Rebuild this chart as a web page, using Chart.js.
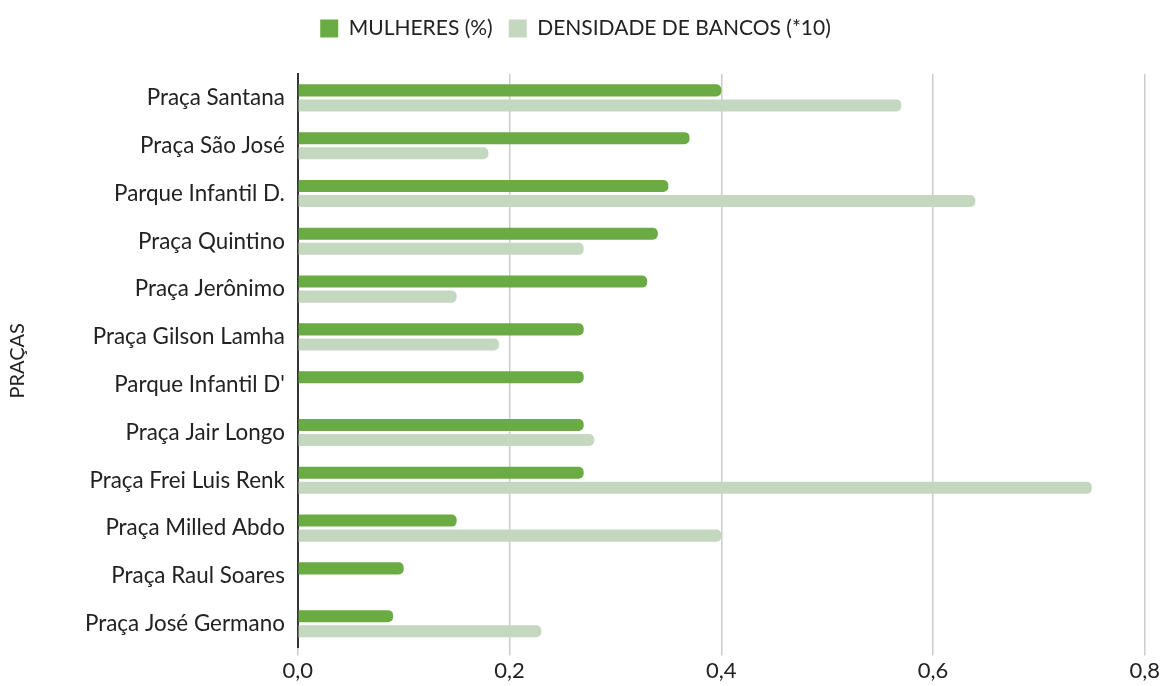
<!DOCTYPE html>
<html>
<head>
<meta charset="utf-8">
<script src="https://cdn.jsdelivr.net/npm/chart.js@4/dist/chart.umd.min.js"></script>
<style>
  html, body { margin: 0; padding: 0; background: #fff; }
  #wrap { width: 1162px; height: 686px; }
</style>
</head>
<body>
<div id="wrap"><canvas id="myChart"></canvas></div>
<script>
var pracas = ['Praça Santana', 'Praça São José', 'Parque Infantil D.', 'Praça Quintino',
  'Praça Jerônimo', 'Praça Gilson Lamha', "Parque Infantil D'", 'Praça Jair Longo',
  'Praça Frei Luis Renk', 'Praça Milled Abdo', 'Praça Raul Soares', 'Praça José Germano'];
var mulheres = [0.40, 0.37, 0.35, 0.34, 0.33, 0.27, 0.27, 0.27, 0.27, 0.15, 0.10, 0.09];
var densidade = [0.57, 0.18, 0.64, 0.27, 0.15, 0.19, null, 0.28, 0.75, 0.40, null, 0.23];
var xTicks = [0, 0.2, 0.4, 0.6, 0.8];

Chart.defaults.font.family = 'Lato, "Open Sans", sans-serif';
Chart.defaults.color = '#222';

// extra room under the legend
var legendGap = {
    id: 'legendGap',
    beforeInit: function (chart) {
        var fit = chart.legend.fit;
        chart.legend.fit = function () {
            fit.bind(chart.legend)();
            this.height += 25;
        };
    }
};

var ctx = document.getElementById('myChart').getContext('2d');
var myChart = new Chart(ctx, {
    type: 'bar',
    data: {
        labels: pracas,
        datasets: [{
            label: 'MULHERES (%)',
            data: mulheres,
            backgroundColor: '#6aab43',
            borderRadius: 5,
            borderSkipped: 'start',
            categoryPercentage: 0.63,
            barPercentage: 0.8
        }, {
            label: 'DENSIDADE DE BANCOS (*10)',
            data: densidade,
            backgroundColor: '#c4d7bf',
            borderRadius: 5,
            borderSkipped: 'start',
            categoryPercentage: 0.63,
            barPercentage: 0.8
        }]
    },
    options: {
        indexAxis: 'y',
        responsive: true,
        maintainAspectRatio: false,
        animation: false,
        layout: { padding: { top: 2, right: 17, bottom: 0, left: 6 } },
        scales: {
            x: {
                min: 0,
                max: 0.8,
                afterBuildTicks: function (axis) {
                    axis.ticks = xTicks.map(function (v) { return { value: v }; });
                },
                ticks: {
                    font: { size: 22 },
                    color: '#222',
                    padding: 2,
                    callback: function (v) { return v.toFixed(1).replace('.', ','); }
                },
                grid: { color: '#cccccc', lineWidth: 1.5, tickLength: 8 },
                border: { display: false }
            },
            y: {
                ticks: { font: { size: 22.4 }, color: '#222', padding: 13 },
                grid: { display: false, drawTicks: false },
                border: { display: true, color: '#333', width: 2 },
                title: {
                    display: true,
                    text: 'PRAÇAS',
                    font: { size: 20 },
                    color: '#222',
                    padding: { top: 0, bottom: 42 }
                }
            }
        },
        plugins: {
            legend: {
                position: 'top',
                labels: {
                    boxWidth: 18,
                    boxHeight: 18,
                    padding: 16,
                    color: '#222',
                    font: { size: 21 }
                }
            },
            tooltip: { enabled: false }
        }
    },
    plugins: [legendGap]
});
</script>
</body>
</html>
